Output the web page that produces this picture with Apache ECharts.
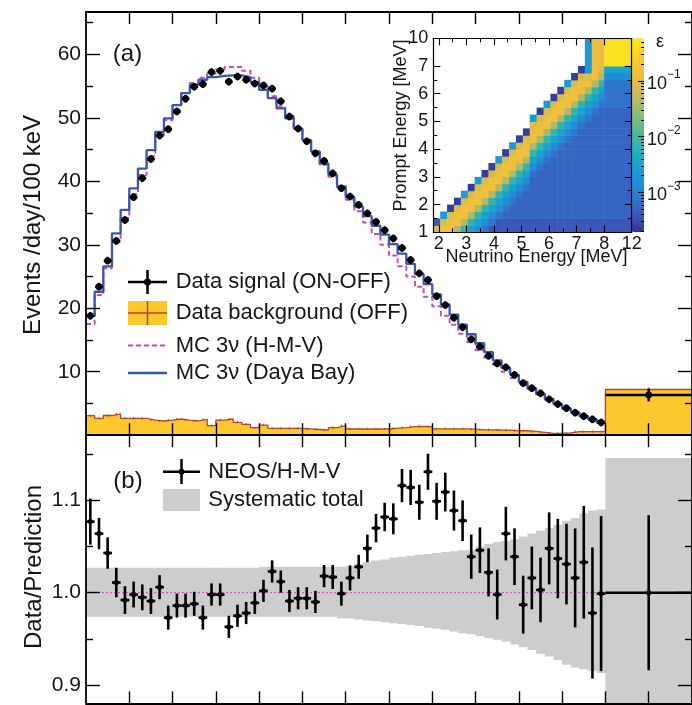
<!DOCTYPE html>
<html>
<head>
<meta charset="utf-8">
<script src="https://cdn.jsdelivr.net/npm/echarts@6.0.0/dist/echarts.min.js"></script>
<style>
html,body{margin:0;padding:0;background:#ffffff;}
#chart{width:692px;height:705px;}
</style>
</head>
<body>
<div id="chart"></div>
<script>
// ---------- DATA (prompt-energy bins 1.0-7.0 MeV, 0.1 MeV wide; last bin 7-10 MeV drawn as 7-8) ----------
const binLo = 1.0;
const binW = 0.1;
const dataSignal = [18.8,23.4,27.5,30.6,33.9,37.5,40.5,43.5,47.2,48.2,
  51.0,53.0,54.9,55.3,57.2,57.4,55.7,56.5,56.0,55.4,
  55.1,54.6,52.6,50.2,48.3,46.3,44.4,43.2,41.25,38.9,
  37.6,36.3,34.95,33.6,32.3,31.0,29.5,27.6,25.5,24.45,
  21.9,20.5,18.5,17.0,15.1,13.95,12.5,11.3,10.7,9.5,
  8.2,7.4,6.6,5.65,4.9,4.25,3.55,3.0,2.5,2.0];
const dataSignalErr = 0.6;
const dataSignalLast = 6.33;
const dataSignalLastErr = 1.0;
const mcDayaBay = [18.8,22.6,26.6,31.8,35.5,38.9,42.0,44.9,47.8,49.9,
  52.0,53.9,55.2,56.0,56.4,56.6,56.7,56.7,56.4,55.6,
  54.4,53.1,51.5,49.9,48.3,46.5,44.7,42.8,41.0,39.2,
  37.5,36.0,34.5,33.0,31.6,30.1,28.6,27.0,25.4,23.8,
  22.2,20.6,19.0,17.4,15.9,14.5,13.1,11.8,10.6,9.5,
  8.4,7.4,6.5,5.7,4.9,4.2,3.6,3.0,2.5,2.0];
const mcHMV = [17.5,22.1,26.3,30.5,34.2,38.0,41.0,44.0,47.2,49.6,
  52.0,53.9,55.5,56.3,57.0,57.6,58.0,58.0,57.4,56.3,
  55.0,53.4,51.8,50.3,48.4,46.5,44.6,42.6,40.7,38.9,
  37.1,35.3,33.5,31.7,30.0,28.3,26.6,25.0,23.4,21.8,
  20.3,18.8,17.4,16.0,14.7,13.4,12.2,11.1,10.0,9.0,
  8.1,7.2,6.4,5.6,4.9,4.2,3.6,3.0,2.5,2.0];
const dataBackground = [3.08,2.66,3.1,3.35,2.66,2.66,2.66,2.39,2.24,2.39,
  2.55,2.39,2.24,2.5,1.5,2.39,2.55,2.03,1.71,1.19,
  1.6,1.08,1.08,1.08,1.08,0.98,0.9,0.82,1.19,1.5,
  0.98,0.98,0.98,0.98,0.98,1.1,1.2,1.35,1.4,1.35,
  1.0,1.0,1.0,1.0,0.95,0.85,0.85,0.82,0.8,0.72,
  0.7,0.6,0.45,0.3,0.3,0.35,0.55,0.55,0.55,0.55];
const dataBackgroundErr = 0.18;
const dataBackgroundLast = 7.2;
const dataBackgroundLastErr = 0.35;

const ratio = [1.077,1.064,1.043,1.011,0.992,0.998,0.995,0.991,1.006,0.973,
  0.986,0.986,0.988,0.973,0.998,0.998,0.963,0.975,0.978,0.989,
  1.002,1.023,1.012,0.991,0.994,0.994,0.990,1.018,1.017,0.999,
  1.016,1.028,1.048,1.070,1.082,1.080,1.116,1.114,1.098,1.131,
  1.099,1.109,1.089,1.078,1.039,1.046,1.022,0.998,1.064,1.039,
  0.987,1.016,1.003,1.048,1.037,1.031,1.016,1.033,0.978,0.999];
const ratioErr = [0.025,0.017,0.017,0.016,0.015,0.014,0.014,0.014,0.013,0.013,
  0.013,0.013,0.013,0.013,0.012,0.012,0.012,0.012,0.012,0.012,
  0.012,0.012,0.012,0.012,0.012,0.012,0.012,0.012,0.013,0.013,
  0.0135,0.013,0.015,0.0154,0.0154,0.0168,0.018,0.019,0.019,0.0195,
  0.020,0.021,0.0217,0.022,0.024,0.0247,0.026,0.027,0.029,0.0307,
  0.0314,0.034,0.035,0.039,0.043,0.0437,0.0536,0.061,0.071,0.084];
const ratioLast = 1.0;
const ratioLastErr = 0.084;
const sysUp = [0.027,0.027,0.027,0.027,0.027,0.027,0.027,0.027,0.027,0.027,
  0.027,0.027,0.027,0.027,0.027,0.027,0.027,0.027,0.027,0.027,
  0.028,0.028,0.028,0.028,0.028,0.028,0.028,0.028,0.028,0.028,
  0.029,0.031,0.033,0.035,0.036,0.038,0.039,0.040,0.041,0.042,
  0.043,0.044,0.045,0.046,0.046,0.050,0.053,0.055,0.056,0.058,
  0.061,0.064,0.067,0.070,0.074,0.078,0.081,0.086,0.089,0.090];
const sysDown = [0.026,0.026,0.026,0.026,0.026,0.026,0.026,0.026,0.026,0.026,
  0.026,0.026,0.026,0.026,0.026,0.026,0.026,0.026,0.026,0.026,
  0.026,0.026,0.026,0.026,0.026,0.026,0.026,0.026,0.026,0.028,
  0.028,0.029,0.030,0.031,0.032,0.033,0.034,0.035,0.036,0.038,
  0.039,0.040,0.042,0.044,0.045,0.047,0.049,0.051,0.053,0.056,
  0.059,0.062,0.066,0.069,0.073,0.078,0.081,0.083,0.085,0.087];
const sysLastUp = 0.146;
const sysLastDown = 0.146;

// Inset: efficiency matrix. x: neutrino energy bin edges (8-12 MeV drawn as 8-9), y: prompt energy edges (7-10 drawn as 7-8)
const effXEdges = [1.8,2.05,2.3,2.55,2.8,3.05,3.3,3.55,3.8,4.05,4.3,4.55,4.8,5.05,5.3,5.55,5.8,6.05,6.3,6.55,6.8,7.05,7.3,7.55,7.8,8.0,9.0];
const effYEdges = [1,1.25,1.5,1.75,2,2.25,2.5,2.75,3,3.25,3.5,3.75,4,4.25,4.5,4.75,5,5.25,5.5,5.75,6,6.25,6.5,6.75,7,8];
// one string per neutrino-energy column, bottom row first; each character = a log10(efficiency) level
const effCols = [
  "91",
  "a9c",
  "aa90",
  "8aa90",
  "68aa9c",
  "568aa90",
  "4568aa9c",
  "34568aa90",
  "134568aa90",
  "1134568aa9c",
  "11234568aa90",
  "112234568aa9c",
  "1122234568aa90",
  "11222234568aa90",
  "1122222234568aa9c",
  "11222222234568aa90",
  "112222222234568aa9c",
  "1122222222234568aa90",
  "11222222222234568aa90",
  "112222222222234568aa9c",
  "1122222222222234568aa90",
  "11222222222222234568aa90",
  "112222222222222234568a9cc",
  "1122222222222222234568aad",
  "112222222222222222345689d",
  "112222222222222222333345b"
];
const effLevels = {'0':-3.62,'1':-3.42,'2':-3.27,'3':-3.12,'4':-2.85,'5':-2.55,'6':-2.15,'7':-1.75,'8':-1.4,'9':-1.1,'a':-0.88,'b':-0.36,'c':-2.65,'d':-0.95};
const cbMin = -3.714, cbMax = -0.234;   // log10 range of the colour bar
const cbPalette = ['#35338f','#3a5cbf','#2a7fd4','#1a9ad6','#1bb0c0','#45b99a','#86bd78','#c4b960','#efbd3d','#f9cc2c','#f6ee1c'];

const mainTicksX = [1.5,2,2.5,3,3.5,4,4.5,5,5.5,6,6.5,7,7.5];
const topMajor = [10,20,30,40,50,60];
const topMinor = [5,15,25,35,45,55,65];
const botMajor = [0.9,1.0,1.1];
const botMinor = [0.95,1.05,1.15];
const insetXMajor = [2,3,4,5,6,7,8];
const insetXMinor = [2.5,3.5,4.5,5.5,6.5,7.5];
const insetXLabels = [2,3,4,5,6,7,8,9];
const insetYMajor = [2,3,4,5,6,7];
const insetYMinor = [1.5,2.5,3.5,4.5,5.5,6.5];
const insetYLabels = [1,2,3,4,5,6,7,8];
const cbMajor = [-3,-2,-1];

// ---------- BUILD ----------
const FONT = '"Liberation Sans", Arial, Helvetica, sans-serif';
const INK = '#161616';
const BLUE = '#3a56b2';
const MAGENTA = '#c84fb2';
const YELLOW = '#fdc72e';
const BROWN = '#b3472e';
const GREY = '#cdcdcd';

function stepPoints(vals, lastVal) {
  const p = [];
  vals.forEach((v, i) => { p.push([binLo + i * binW, v]); p.push([binLo + (i + 1) * binW, v]); });
  if (lastVal != null) { p.push([7, lastVal]); p.push([8, lastVal]); }
  return p;
}
const centerOf = i => binLo + (i + 0.5) * binW;

const signalPts = dataSignal.map((v, i) => [centerOf(i), v, dataSignalErr, 0.045]);
signalPts.push([7.5, dataSignalLast, dataSignalLastErr, 0.5]);
const bgErrPts = dataBackground.map((v, i) => [centerOf(i), v, dataBackgroundErr]);
bgErrPts.push([7.5, dataBackgroundLast, dataBackgroundLastErr]);
const ratioPts = ratio.map((v, i) => [centerOf(i), v, ratioErr[i], binW / 2]);
ratioPts.push([7.5, ratioLast, ratioLastErr, 0.5]);
const bandPts = sysUp.map((u, i) => [binLo + i * binW, binLo + (i + 1) * binW, 1 - sysDown[i], 1 + sysUp[i]]);
bandPts.push([7, 8, 1 - sysLastDown, 1 + sysLastUp]);

const effData = [];
effCols.forEach((col, c) => {
  for (let r = 0; r < col.length; r++) {
    const ch = col[r];
    if (ch === '.') continue;
    effData.push([effXEdges[c], effXEdges[c + 1], effYEdges[r], effYEdges[r + 1], effLevels[ch]]);
  }
});
const cbMinor = [];
[-4, -3, -2, -1].forEach(k => { for (let m = 2; m <= 9; m++) { const t = k + Math.log10(m); if (t > cbMin && t < cbMax) cbMinor.push(t); } });

function mkAxis(gridIndex, position, min, max, ticks, len, o) {
  o = o || {};
  return {
    type: 'value', gridIndex: gridIndex, position: position, min: min, max: max, z: 10,
    axisLine: {show: !!o.line, onZero: false, lineStyle: {color: '#000', width: o.lw || 1.8}},
    axisTick: {show: true, inside: true, length: len, customValues: ticks, lineStyle: {color: '#000', width: o.tw || 1.4}},
    axisLabel: o.labels ? {show: true, customValues: o.labels, formatter: o.fmt, fontSize: o.fs, fontFamily: FONT, color: INK, margin: o.margin, rich: o.rich} : {show: false},
    splitLine: {show: false}
  };
}

function errBarRender(lw, rad) {
  return function (params, api) {
    const x = api.value(0), y = api.value(1), e = api.value(2), w = api.value(3);
    const c = api.coord([x, y]);
    const l = api.coord([x - w, y]), rr = api.coord([x + w, y]);
    const t = api.coord([x, y + e]), b = api.coord([x, y - e]);
    return {type: 'group', children: [
      {type: 'line', shape: {x1: l[0], y1: c[1], x2: rr[0], y2: c[1]}, style: {stroke: '#000', lineWidth: lw}},
      {type: 'line', shape: {x1: c[0], y1: t[1], x2: c[0], y2: b[1]}, style: {stroke: '#000', lineWidth: lw}},
      {type: 'circle', shape: {cx: c[0], cy: c[1], r: rad}, style: {fill: '#000'}}
    ]};
  };
}

const chart = echarts.init(document.getElementById('chart'), null, {renderer: 'canvas', width: 692, height: 705});

const yTopMax = 66.67, yBotMin = 0.8802, yBotMax = 1.1706;

const option = {
  animation: false,
  backgroundColor: '#ffffff',
  grid: [
    {left: 86, top: 12, width: 612.2, height: 423.2},
    {left: 86, top: 435.2, width: 612.2, height: 268.1},
    {left: 433.3, top: 38.3, width: 198.4, height: 194, show: true, backgroundColor: '#ffffff', borderWidth: 0},
    {left: 631.7, top: 38.3, width: 12.3, height: 194}
  ],
  xAxis: [
    mkAxis(0, 'bottom', 1, 8, mainTicksX, 12, {line: true}),
    mkAxis(0, 'top', 1, 8, mainTicksX, 12, {line: true}),
    mkAxis(1, 'bottom', 1, 8, mainTicksX, 12, {line: true}),
    mkAxis(1, 'top', 1, 8, mainTicksX, 12, {line: true}),
    mkAxis(2, 'bottom', 1.8, 9, insetXMajor, 7, {line: true, lw: 1.2, tw: 1.1, labels: insetXLabels, fmt: v => (v === 9 ? '12' : String(v)), fs: 18, margin: 3}),
    mkAxis(2, 'bottom', 1.8, 9, insetXMinor, 4, {tw: 1}),
    mkAxis(2, 'top', 1.8, 9, insetXMajor, 7, {line: true, lw: 1.2, tw: 1.1}),
    mkAxis(2, 'top', 1.8, 9, insetXMinor, 4, {tw: 1}),
    {type: 'value', gridIndex: 3, min: 0, max: 1, show: false}
  ],
  yAxis: [
    mkAxis(0, 'left', 0, yTopMax, topMajor, 14, {line: true, labels: topMajor, fmt: v => String(v), fs: 21, margin: 5}),
    mkAxis(0, 'left', 0, yTopMax, topMinor, 7, {}),
    mkAxis(0, 'right', 0, yTopMax, topMajor, 14, {line: true}),
    mkAxis(0, 'right', 0, yTopMax, topMinor, 7, {}),
    mkAxis(1, 'left', yBotMin, yBotMax, botMajor, 14, {line: true, labels: botMajor, fmt: v => v.toFixed(1), fs: 21, margin: 5}),
    mkAxis(1, 'left', yBotMin, yBotMax, botMinor, 7, {}),
    mkAxis(1, 'right', yBotMin, yBotMax, botMajor, 14, {line: true}),
    mkAxis(1, 'right', yBotMin, yBotMax, botMinor, 7, {}),
    mkAxis(2, 'left', 1, 8, insetYMajor, 7, {line: true, lw: 1.2, tw: 1.1, labels: insetYLabels, fmt: v => (v === 8 ? '10' : String(v)), fs: 18, margin: 5}),
    mkAxis(2, 'left', 1, 8, insetYMinor, 4, {tw: 1}),
    mkAxis(2, 'right', 1, 8, insetYMajor, 7, {line: true, lw: 1.2, tw: 1.1}),
    mkAxis(2, 'right', 1, 8, insetYMinor, 4, {tw: 1}),
    mkAxis(3, 'right', cbMin, cbMax, cbMajor, 6, {tw: 1.1, labels: cbMajor, fmt: v => '{b|10}{s|\u2212' + (-v) + '}', fs: 18, margin: 3,
      rich: {b: {fontSize: 18, fontFamily: FONT, color: INK, lineHeight: 24, verticalAlign: 'bottom'},
             s: {fontSize: 12, fontFamily: FONT, color: INK, lineHeight: 12, verticalAlign: 'top'}}}),
    mkAxis(3, 'right', cbMin, cbMax, cbMinor, 3, {tw: 1})
  ],
  visualMap: [{
    type: 'continuous', min: cbMin, max: cbMax, dimension: 4, seriesIndex: 8,
    inRange: {color: cbPalette}, orient: 'vertical', left: 631.7, top: 38.3,
    itemWidth: 12.3, itemHeight: 194, calculable: false, text: null, padding: 0, hoverLink: false, show: true
  }],
  series: [
    {type: 'line', xAxisIndex: 0, yAxisIndex: 0, data: stepPoints(dataBackground, dataBackgroundLast), symbol: 'none',
      lineStyle: {color: BROWN, width: 1.3}, areaStyle: {color: YELLOW, opacity: 1}, z: 1},
    {type: 'custom', xAxisIndex: 0, yAxisIndex: 0, data: bgErrPts, z: 2,
      renderItem: function (params, api) {
        const x = api.value(0), y = api.value(1), e = api.value(2);
        const t = api.coord([x, y + e]), b = api.coord([x, y - e]);
        return {type: 'line', shape: {x1: t[0], y1: t[1], x2: b[0], y2: b[1]}, style: {stroke: BROWN, lineWidth: 1}};
      }},
    {type: 'line', xAxisIndex: 0, yAxisIndex: 0, data: stepPoints(mcHMV, null), symbol: 'none',
      lineStyle: {color: MAGENTA, width: 2, type: [5, 3]}, z: 3},
    {type: 'line', xAxisIndex: 0, yAxisIndex: 0, data: stepPoints(mcDayaBay, null), symbol: 'none',
      lineStyle: {color: BLUE, width: 2.3}, z: 4},
    {type: 'custom', xAxisIndex: 0, yAxisIndex: 0, data: signalPts, renderItem: errBarRender(2.5, 3.4), z: 5},
    {type: 'custom', xAxisIndex: 2, yAxisIndex: 4, data: bandPts, clip: true, z: 1,
      renderItem: function (params, api) {
        const p0 = api.coord([api.value(0), api.value(3)]), p1 = api.coord([api.value(1), api.value(2)]);
        return {type: 'rect', shape: {x: p0[0], y: p0[1], width: p1[0] - p0[0] + 0.6, height: p1[1] - p0[1]}, style: {fill: GREY}};
      }},
    {type: 'line', xAxisIndex: 2, yAxisIndex: 4, data: [[1, 1], [7, 1]], symbol: 'none',
      lineStyle: {color: '#d040c0', width: 1, type: [2, 2]}, z: 2},
    {type: 'custom', xAxisIndex: 2, yAxisIndex: 4, data: ratioPts, renderItem: errBarRender(2.6, 2.6), z: 5},
    {type: 'custom', xAxisIndex: 4, yAxisIndex: 8, data: effData, z: 3,
      dimensions: ['x0', 'x1', 'y0', 'y1', 'v'], encode: {x: [0, 1], y: [2, 3]},
      renderItem: function (params, api) {
        const p0 = api.coord([api.value(0), api.value(3)]), p1 = api.coord([api.value(1), api.value(2)]);
        return {type: 'rect', shape: {x: p0[0], y: p0[1], width: p1[0] - p0[0] + 0.5, height: p1[1] - p0[1] + 0.5}, style: {fill: api.visual('color')}};
      }}
  ],
  graphic: [
    {type: 'text', x: 33, y: 225, rotation: Math.PI / 2, style: {text: 'Events /day/100 keV', fontSize: 24, fontFamily: FONT, fill: INK, align: 'center', verticalAlign: 'middle'}},
    {type: 'text', x: 34, y: 567, rotation: Math.PI / 2, style: {text: 'Data/Prediction', fontSize: 24, fontFamily: FONT, fill: INK, align: 'center', verticalAlign: 'middle'}},
    {type: 'text', x: 127.5, y: 54, style: {text: '(a)', fontSize: 24, fontFamily: FONT, fill: INK, align: 'center', verticalAlign: 'middle'}},
    {type: 'text', x: 128, y: 481, style: {text: '(b)', fontSize: 24, fontFamily: FONT, fill: INK, align: 'center', verticalAlign: 'middle'}},
    // legend (a)
    {type: 'line', shape: {x1: 128, y1: 282, x2: 167, y2: 282}, style: {stroke: '#000', lineWidth: 2.5}},
    {type: 'line', shape: {x1: 147.5, y1: 270, x2: 147.5, y2: 294}, style: {stroke: '#000', lineWidth: 2.5}},
    {type: 'circle', shape: {cx: 147.5, cy: 282, r: 3.5}, style: {fill: '#000'}},
    {type: 'text', x: 175.7, y: 282, style: {text: 'Data signal (ON-OFF)', fontSize: 22, fontFamily: FONT, fill: INK, align: 'left', verticalAlign: 'middle'}},
    {type: 'rect', shape: {x: 128, y: 301, width: 39, height: 24}, style: {fill: YELLOW}},
    {type: 'line', shape: {x1: 128, y1: 313, x2: 167, y2: 313}, style: {stroke: BROWN, lineWidth: 1.5}},
    {type: 'line', shape: {x1: 147.5, y1: 301, x2: 147.5, y2: 325}, style: {stroke: BROWN, lineWidth: 1.5}},
    {type: 'text', x: 175.7, y: 313.3, style: {text: 'Data background (OFF)', fontSize: 22, fontFamily: FONT, fill: INK, align: 'left', verticalAlign: 'middle'}},
    {type: 'line', shape: {x1: 128, y1: 345.5, x2: 167, y2: 345.5}, style: {stroke: MAGENTA, lineWidth: 2, lineDash: [5, 3]}},
    {type: 'text', x: 175.7, y: 345.5, style: {text: 'MC 3\u03bd (H-M-V)', fontSize: 22, fontFamily: FONT, fill: INK, align: 'left', verticalAlign: 'middle'}},
    {type: 'line', shape: {x1: 128, y1: 373, x2: 167, y2: 373}, style: {stroke: BLUE, lineWidth: 2.5}},
    {type: 'text', x: 175.7, y: 373, style: {text: 'MC 3\u03bd (Daya Bay)', fontSize: 22, fontFamily: FONT, fill: INK, align: 'left', verticalAlign: 'middle'}},
    // legend (b)
    {type: 'line', shape: {x1: 163, y1: 471.7, x2: 200, y2: 471.7}, style: {stroke: '#000', lineWidth: 2.5}},
    {type: 'line', shape: {x1: 181.5, y1: 459, x2: 181.5, y2: 484}, style: {stroke: '#000', lineWidth: 2.5}},
    {type: 'circle', shape: {cx: 181.5, cy: 471.7, r: 3}, style: {fill: '#000'}},
    {type: 'text', x: 208.3, y: 471.7, style: {text: 'NEOS/H-M-V', fontSize: 22, fontFamily: FONT, fill: INK, align: 'left', verticalAlign: 'middle'}},
    {type: 'rect', shape: {x: 163, y: 489, width: 37, height: 22}, style: {fill: GREY}},
    {type: 'text', x: 208.3, y: 500, style: {text: 'Systematic total', fontSize: 22, fontFamily: FONT, fill: INK, align: 'left', verticalAlign: 'middle'}},
    // inset titles
    {type: 'text', x: 401.5, y: 125.5, rotation: Math.PI / 2, style: {text: 'Prompt Energy [MeV]', fontSize: 18, fontFamily: FONT, fill: INK, align: 'center', verticalAlign: 'middle'}},
    {type: 'text', x: 536.5, y: 257, style: {text: 'Neutrino Energy [MeV]', fontSize: 18, fontFamily: FONT, fill: INK, align: 'center', verticalAlign: 'middle'}},
    {type: 'text', x: 660, y: 42, style: {text: '\u03b5', fontSize: 18, fontFamily: FONT, fill: INK, align: 'center', verticalAlign: 'middle'}}
  ]
};
chart.setOption(option);
</script>
</body>
</html>
